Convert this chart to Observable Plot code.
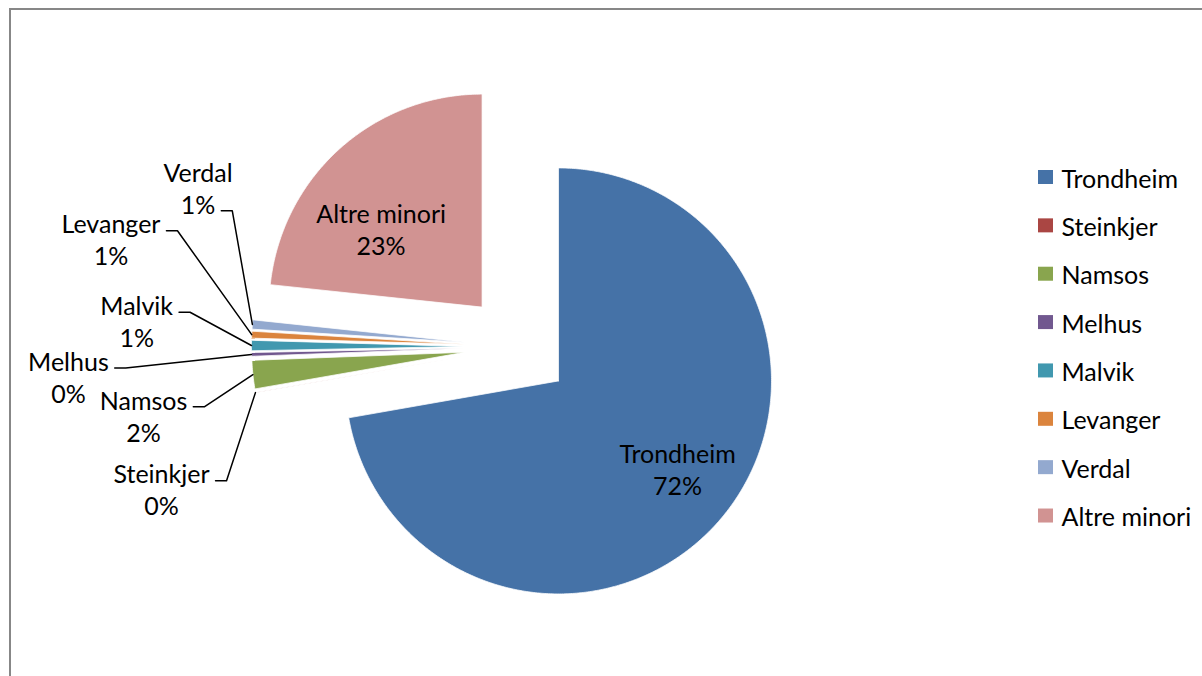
<!DOCTYPE html>
<html>
<head>
<meta charset="utf-8">
<script src="https://cdn.jsdelivr.net/npm/d3@7"></script>
<script src="https://cdn.jsdelivr.net/npm/@observablehq/plot@0.6"></script>
<style>
  body { margin: 0; background: #fff; }
  #wrap { position: relative; width: 1202px; height: 676px; overflow: hidden; background: #fff; }
  #border { position: absolute; left: 9px; top: 8px; width: 1400px; height: 900px;
            border-left: 2px solid #878787; border-top: 2px solid #878787; }
  #chart { position: absolute; left: 0; top: 0; }
</style>
</head>
<body>
<div id="wrap"><div id="border"></div><div id="chart"></div></div>
<script>
// ---- data ----
const categories = ["Trondheim", "Steinkjer", "Namsos", "Melhus", "Malvik", "Levanger", "Verdal", "Altre minori"];
const values     = [72.23, 0.02, 2.15, 0.28, 0.78, 0.52, 0.70, 23.32];
const colors     = ["#4572A7", "#AA4643", "#89A54E", "#71588F", "#4198AF", "#DB843D", "#93A9CF", "#D19392"];

// ---- layout ----
const W = 1202, H = 676;
const CX = 517.2, CY = 346.2, R = 213, EXPLODE = 0.25;
const FONT = "Lato", FS = 25, LSTEP = 32;
// label placement (polar: degrees clockwise from 12 o'clock, radius in R units)
const insideLabels = {
  "Trondheim":    {angle: 126.3, radius: 0.694},
  "Altre minori": {angle: 307.7, radius: 0.599}
};
const outsideLabels = {
  "Verdal":    {angle: 296.5, radius: 1.677, attach: 1},
  "Levanger":  {angle: 284.8, radius: 1.975, attach: 0},
  "Malvik":    {angle: 273.9, radius: 1.793, attach: 0},
  "Melhus":    {angle: 266.2, radius: 2.114, attach: 0},
  "Namsos":    {angle: 259.6, radius: 1.786, attach: 0},
  "Steinkjer": {angle: 248.2, radius: 1.801, attach: 0}
};
const LEG_X = 1038, LEG_Y0 = 177, LEG_STEP = 48.36, LEG_SW = 15, LEG_SH = 14;

// ---- geometry ----
const total = d3.sum(values);
const arcs = d3.pie().sort(null).value(d => d)(values);
const polar = (cx, cy, r, a) => [cx + r * Math.sin(a), cy - r * Math.cos(a)];
const rad = deg => deg * Math.PI / 180;

const slicePts = [];
const sliceInfo = categories.map((name, i) => {
  const a0 = arcs[i].startAngle, a1 = arcs[i].endAngle, mid = (a0 + a1) / 2;
  const [cx, cy] = polar(CX, CY, EXPLODE * R, mid);
  const n = Math.max(2, Math.ceil((a1 - a0) / rad(0.5)));
  slicePts.push({name, x: cx, y: cy});
  for (let k = 0; k <= n; k++) {
    const [x, y] = polar(cx, cy, R, a0 + (a1 - a0) * k / n);
    slicePts.push({name, x, y});
  }
  slicePts.push({name, x: cx, y: cy});
  const pct = Math.round(values[i] / total * 100);
  return {name, cx, cy, mid, pct};
});

const ctx = document.createElement("canvas").getContext("2d");
ctx.font = `${FS}px ${FONT}`;
const tw = s => ctx.measureText(s).width;

const labelData = [];
const leaderPts = [];
sliceInfo.forEach(s => {
  const text = `${s.name}\n${s.pct}%`;
  if (insideLabels[s.name]) {
    const L = insideLabels[s.name];
    const [x, y] = polar(s.cx, s.cy, L.radius * R, rad(L.angle));
    labelData.push({text, x, y});
  } else if (outsideLabels[s.name]) {
    const L = outsideLabels[s.name];
    const [x, y] = polar(CX, CY, L.radius * R, rad(L.angle));
    labelData.push({text, x, y});
    const lines = [s.name, `${s.pct}%`];
    const baseline = y + (L.attach - 0.5) * LSTEP + 0.32 * FS;
    const ay = baseline - 0.5;
    const hx = x + tw(lines[L.attach]) / 2 + 6;
    const ex = hx + 11;
    const [px, py] = polar(s.cx, s.cy, R, s.mid);
    leaderPts.push({name: s.name, x: hx, y: ay}, {name: s.name, x: ex, y: ay}, {name: s.name, x: px, y: py});
  }
});

const legendData = categories.map((name, i) => {
  const yc = LEG_Y0 + i * LEG_STEP;
  return {name, x1: LEG_X, x2: LEG_X + LEG_SW, y1: yc - LEG_SH / 2, y2: yc + LEG_SH / 2, tx: LEG_X + LEG_SW + 8, ty: yc + 2};
});

const chart = Plot.plot({
  width: W, height: H,
  margin: 0,
  x: {domain: [0, W], range: [0, W], axis: null},
  y: {domain: [0, H], range: [0, H], axis: null},
  color: {domain: categories, range: colors},
  style: {background: "transparent", overflow: "visible", fontFamily: FONT},
  marks: [
    Plot.line(slicePts, {x: "x", y: "y", z: "name", fill: "name", stroke: "#ffffff", strokeWidth: 0.75, curve: "linear"}),
    Plot.line(leaderPts, {x: "x", y: "y", z: "name", stroke: "#000", strokeWidth: 1.5, curve: "linear"}),
    Plot.text(labelData, {x: "x", y: "y", text: "text", textAnchor: "middle", lineAnchor: "middle", lineHeight: LSTEP / FS, fontSize: FS, fontFamily: FONT, fill: "#000"}),
    Plot.rect(legendData, {x1: "x1", x2: "x2", y1: "y1", y2: "y2", fill: "name"}),
    Plot.text(legendData, {x: "tx", y: "ty", text: "name", textAnchor: "start", lineAnchor: "middle", fontSize: FS, fontFamily: FONT, fill: "#000"})
  ]
});
document.getElementById("chart").appendChild(chart);
</script>
</body>
</html>
